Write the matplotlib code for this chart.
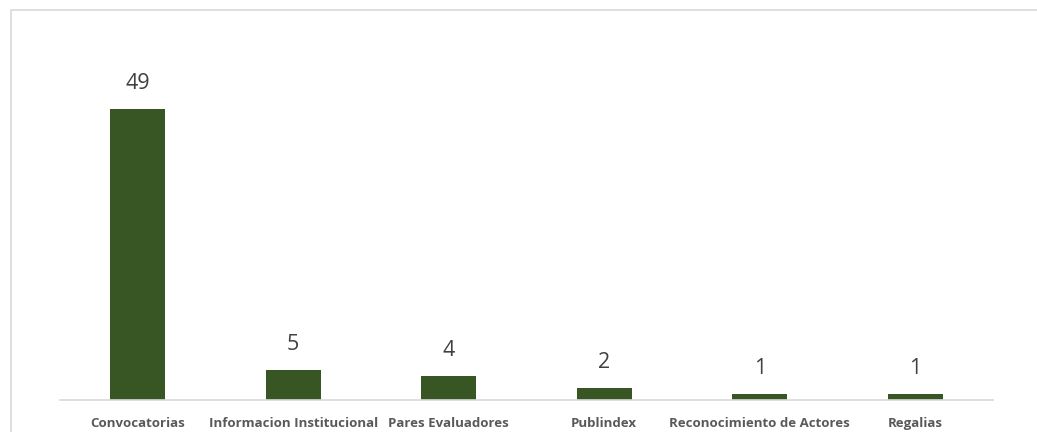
import matplotlib.pyplot as plt
from matplotlib.patches import Rectangle

categories = ['Convocatorias', 'Informacion Institucional', 'Pares Evaluadores',
              'Publindex', 'Reconocimiento de Actores', 'Regalias']
counts = [49, 5, 4, 2, 1, 1]

W, H = 1037, 432
fig = plt.figure(figsize=(W / 100, H / 100), dpi=100)
fig.patch.set_facecolor('white')

# light chart-area frame like the Excel export
fig.patches.append(Rectangle((11 / W, -0.1), 1.2, (H - 10) / H + 0.1, transform=fig.transFigure,
                             fill=False, edgecolor='#d9d9d9', linewidth=1.2))

ax = fig.add_axes([60 / W, 32 / H, 933 / W, 340 / H])
x = range(len(categories))
bars = ax.bar(x, counts, width=0.354, color='#375623')

ax.set_xlim(-0.5, len(categories) - 0.5)
ax.set_ylim(0, 340 / 5.94)

for rect, v in zip(bars, counts):
    ax.annotate(str(v), (rect.get_x() + rect.get_width() / 2, v), xytext=(0, 11),
                textcoords='offset points', ha='center', va='bottom',
                fontsize=15.5, color='#404040', family=['Open Sans', 'DejaVu Sans'])

ax.set_xticks(list(x))
ax.set_xticklabels(categories, fontsize=9.5, fontweight='bold', color='#595959',
                   family=['Open Sans', 'DejaVu Sans'])
ax.tick_params(axis='x', length=0, pad=12)
ax.set_yticks([])
for side in ['top', 'right', 'left']:
    ax.spines[side].set_visible(False)
ax.spines['bottom'].set_color('#d9d9d9')
ax.spines['bottom'].set_linewidth(1.2)

fig.savefig('out.png', dpi=100)
